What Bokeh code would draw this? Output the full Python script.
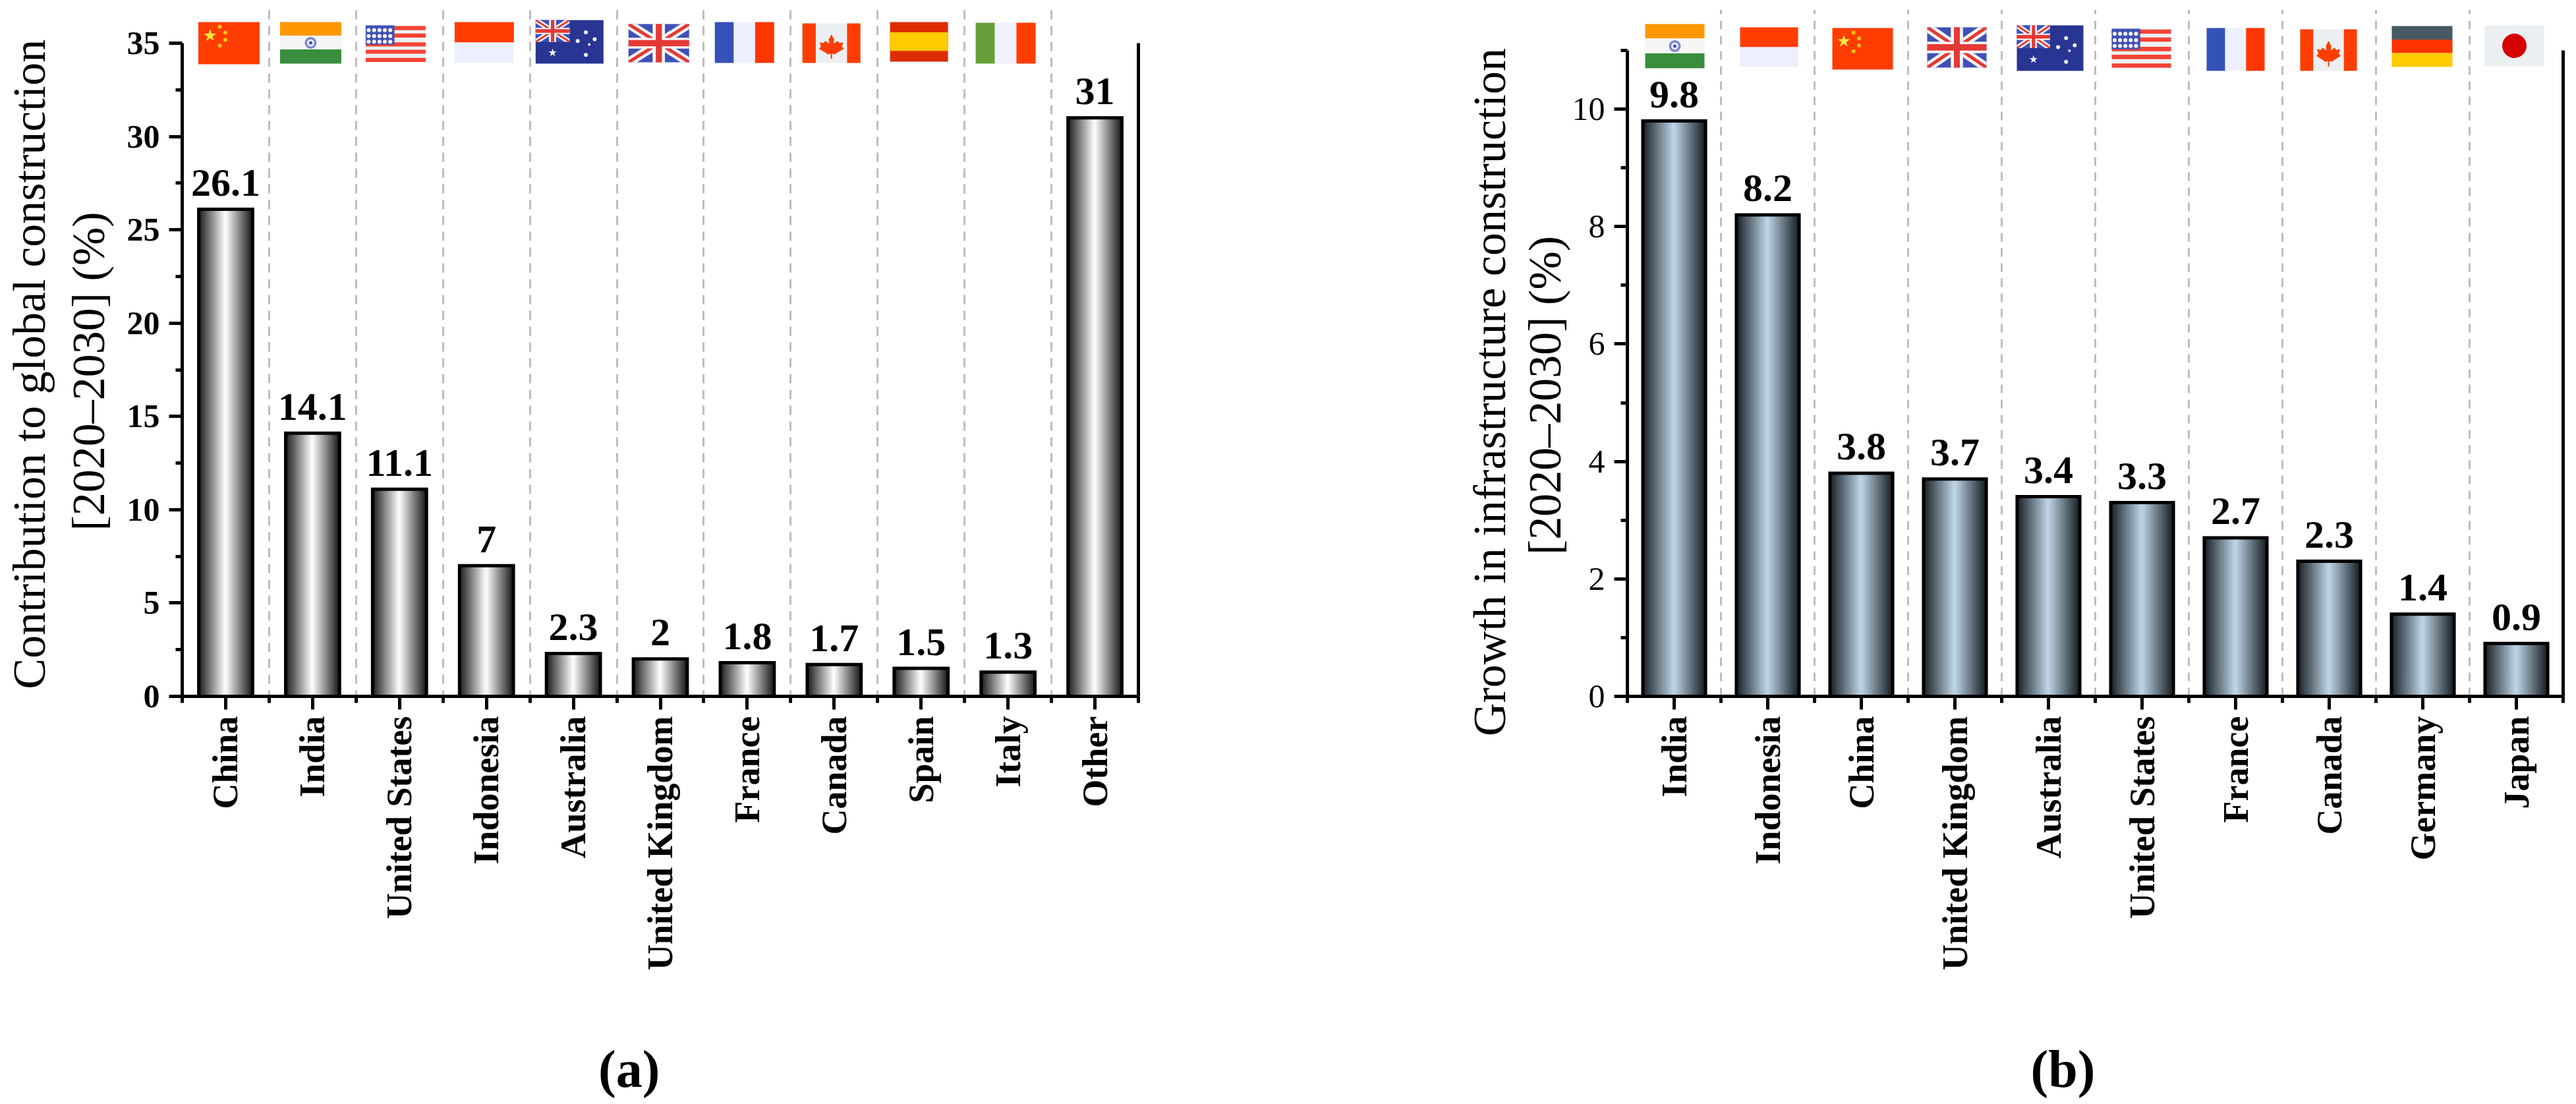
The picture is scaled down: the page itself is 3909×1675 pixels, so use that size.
import math
from bokeh.embed import file_html
from bokeh.resources import INLINE
from bokeh.layouts import row
from bokeh.plotting import figure
from bokeh.models import Range1d, FixedTicker, LinearAxis, Title, ColumnDataSource
from bokeh.core.properties import value

# ---------- data ----------
cats_a = ["China", "India", "United States", "Indonesia", "Australia", "United Kingdom",
          "France", "Canada", "Spain", "Italy", "Other"]
vals_a = [26.1, 14.1, 11.1, 7, 2.3, 2, 1.8, 1.7, 1.5, 1.3, 31]
cats_b = ["India", "Indonesia", "China", "United Kingdom", "Australia", "United States",
          "France", "Canada", "Germany", "Japan"]
vals_b = [9.8, 8.2, 3.8, 3.7, 3.4, 3.3, 2.7, 2.3, 1.4, 0.9]
ylabel_a = ["Contribution to global construction", "[2020\u20132030] (%)"]
ylabel_b = ["Growth in infrastructure construction", "[2020\u20132030] (%)"]
yticks_a = [0, 5, 10, 15, 20, 25, 30, 35]
yminor_a = [2.5, 7.5, 12.5, 17.5, 22.5, 27.5, 32.5]
yticks_b = [0, 2, 4, 6, 8, 10]
yminor_b = [1, 3, 5, 7, 9, 11]

# flag boxes, page pixels: left, right, top, bottom
flags_a = {"China": (300, 393, 33, 97), "India": (424, 517, 33, 96), "United States": (554, 645, 38, 94),
           "Indonesia": (689, 779, 33, 95), "Australia": (812, 915, 30, 96), "United Kingdom": (953, 1045, 36, 94),
           "France": (1084, 1174, 33, 95), "Canada": (1217, 1305, 35, 95), "Spain": (1350, 1438, 33, 93),
           "Italy": (1480, 1571, 34, 96)}
flags_b = {"India": (2496, 2586, 36, 103), "Indonesia": (2640, 2728, 41, 101), "China": (2780, 2872, 42, 105),
           "United Kingdom": (2924, 3014, 41, 102), "Australia": (3060, 3161, 38, 107),
           "United States": (3204, 3294, 43, 103), "France": (3348, 3436, 42, 107), "Canada": (3490, 3576, 44, 107),
           "Germany": (3629, 3721, 39, 101), "Japan": (3770, 3860, 38, 100)}

SERIF = "Liberation Serif"
HEIGHT = 1672
FRAME_TOP = 14
MAPLE_U = [.5, .58, .56, .68, .72, .84, .80, .86, .62, .62, .52, .52, .48, .48, .38, .38, .14, .20, .16, .28, .32, .44, .42]
MAPLE_V = [.20, .34, .46, .38, .44, .42, .54, .60, .74, .76, .74, .88, .88, .74, .76, .74, .60, .54, .42, .44, .38, .46, .34]


def hexmix(c0, c1, t):
    a = [int(c0[i:i + 2], 16) for i in (1, 3, 5)]
    b = [int(c1[i:i + 2], 16) for i in (1, 3, 5)]
    return "#%02x%02x%02x" % tuple(round(x + (y - x) * t) for x, y in zip(a, b))


def spacer(p, side, size):
    """A blank axis with one invisible tick: it only reserves room in a side panel."""
    s = LinearAxis(ticker=FixedTicker(ticks=[1]), major_tick_out=size, major_tick_in=0, major_label_standoff=0,
                   axis_line_color=None, major_tick_line_color=None, minor_tick_line_color=None,
                   major_label_text_color=None, minor_tick_out=0, major_label_overrides={1: ""},
                   major_label_text_font_size="1px")
    p.add_layout(s, side)


def panel(cats, vals, yticks, yminor, ymax, flags, ylabel, tag, page_left, fig_w, frame_l, frame_r,
          y_zero, y_max_px, bar_frac, edge, mid, bold_y, title_starts, title_gaps, tag_x, tag_gap,
          grid_top_px, dash, dash_offset):
    band = (frame_r - frame_l) / len(cats)
    unit = (y_zero - y_max_px) / ymax
    to_x = lambda px: (px - frame_l) / band
    to_y = lambda py: (y_zero - py) / unit
    n = len(cats)
    p = figure(width=fig_w, height=HEIGHT, toolbar_location=None, output_backend="svg",
               x_range=Range1d(0, n), y_range=Range1d(0, to_y(FRAME_TOP)),
               min_border_left=round(frame_l - page_left), min_border_right=round(page_left + fig_w - frame_r),
               min_border_top=FRAME_TOP, min_border_bottom=round(HEIGHT - y_zero))
    p.outline_line_color = None
    p.background_fill_color = "white"
    p.ygrid.visible = False
    p.xgrid.ticker = FixedTicker(ticks=list(range(1, n)))
    p.xgrid.bounds = (0, to_y(grid_top_px))
    p.xgrid.grid_line_color = "#bdbdbd"
    p.xgrid.grid_line_width = 3
    p.xgrid.grid_line_dash = dash
    p.xgrid.grid_line_dash_offset = dash_offset

    centers = [i + 0.5 for i in range(n)]
    xa = p.xaxis[0]
    xa.ticker = FixedTicker(ticks=centers, minor_ticks=list(range(n + 1)))
    xa.major_label_overrides = {c: name for c, name in zip(centers, cats)}
    xa.major_label_orientation = math.pi / 2
    xa.major_label_text_font = SERIF
    xa.major_label_text_font_size = "54px"
    xa.major_label_text_font_style = "bold"
    xa.major_label_text_color = "black"
    xa.major_label_standoff = 10
    ya = p.yaxis[0]
    ya.ticker = FixedTicker(ticks=yticks, minor_ticks=yminor)
    ya.bounds = (0, ymax)
    ya.major_label_text_font = SERIF
    ya.major_label_text_font_size = "50px"
    ya.major_label_text_font_style = "bold" if bold_y else "normal"
    ya.major_label_text_color = "black"
    ya.major_label_standoff = 14
    for ax in (xa, ya):
        ax.axis_line_color = "black"
        ax.axis_line_width = 5
        ax.major_tick_line_color = "black"
        ax.major_tick_line_width = 5
        ax.minor_tick_line_color = "black"
        ax.minor_tick_line_width = 5
        ax.major_tick_in = 0
        ax.major_tick_out = 20
        ax.minor_tick_in = 0
        ax.minor_tick_out = 10
    ra = LinearAxis(ticker=FixedTicker(ticks=[]), bounds=(0, ymax))
    ra.axis_line_color = "black"
    ra.axis_line_width = 5
    ra.major_tick_line_color = None
    ra.minor_tick_line_color = None
    ra.major_label_text_color = None
    p.add_layout(ra, "right")

    # gradient-filled bars, built from thin strips
    strips = 44
    sw = bar_frac / strips
    sx, st, sc = [], [], []
    for c, v in zip(centers, vals):
        for k in range(strips):
            t = (k + 0.5) / strips
            g = 1 - abs(2 * t - 1) / 0.94
            sx.append(c - bar_frac / 2 + (k + 0.5) * sw)
            st.append(v)
            sc.append(hexmix(edge, mid, max(0, min(1, g))))
    p.vbar(x=sx, top=st, bottom=0, width=sw, fill_color=sc, line_color=sc, line_width=1)
    p.vbar(x=centers, top=vals, bottom=0, width=bar_frac, fill_color=None,
           line_color="black", line_width=5, line_join="miter")
    p.text(x=centers, y=vals, text=[str(v) for v in vals], text_font=value(SERIF), text_font_size="60px",
           text_font_style="bold", text_align="center", text_baseline="alphabetic",
           text_color="black", y_offset=-40)

    # flags
    qs = dict(l=[], r=[], t=[], b=[], c=[])
    ps = dict(x=[], y=[], c=[])
    ss = dict(x=[], y=[], s=[], c=[], m=[])
    for name, box in flags.items():
        L, R, T, B = box

        def rect(u0, u1, v0, v1, col):
            qs["l"].append(to_x(L + (R - L) * u0)); qs["r"].append(to_x(L + (R - L) * u1))
            qs["t"].append(to_y(T + (B - T) * v0)); qs["b"].append(to_y(T + (B - T) * v1)); qs["c"].append(col)

        def poly(us, vs, col):
            ps["x"].append([to_x(L + (R - L) * u) for u in us])
            ps["y"].append([to_y(T + (B - T) * v) for v in vs]); ps["c"].append(col)

        def dot(u, v, size, col, marker="circle"):
            ss["x"].append(to_x(L + (R - L) * u)); ss["y"].append(to_y(T + (B - T) * v))
            ss["s"].append(size); ss["c"].append(col); ss["m"].append(marker)

        def jack(u0, u1, v0, v1):
            W, H = u1 - u0, v1 - v0
            mp = lambda a, b: (u0 + W * a, v0 + H * b)
            rect(u0, u1, v0, v1, "#3f51b5")

            def diag(d, col):
                pts = [(0, 0), (d, 0), (1, 1 - d), (1, 1), (1 - d, 1), (0, d)]
                poly([mp(*q)[0] for q in pts], [mp(*q)[1] for q in pts], col)
                pts = [(1, 0), (1, d), (d, 1), (0, 1), (0, 1 - d), (1 - d, 0)]
                poly([mp(*q)[0] for q in pts], [mp(*q)[1] for q in pts], col)
            diag(.14, "#f5f5f5")
            diag(.05, "#e53935")
            rect(u0 + W * .40, u0 + W * .60, v0, v1, "#f5f5f5")
            rect(u0, u1, v0 + H * .36, v0 + H * .64, "#f5f5f5")
            rect(u0 + W * .45, u0 + W * .55, v0, v1, "#e53935")
            rect(u0, u1, v0 + H * .42, v0 + H * .58, "#e53935")

        if name == "China":
            rect(0, 1, 0, 1, "#ff3d00")
            dot(.19, .32, 20, "#ffeb3b", "star")
            for u, v in [(.35, .11), (.44, .25), (.44, .42), (.35, .56)]:
                dot(u, v, 6, "#ffc107")
        elif name == "India":
            rect(0, 1, 0, .33, "#ff9800"); rect(0, 1, .33, .66, "#f5f5f5"); rect(0, 1, .66, 1, "#388e3c")
            dot(.5, .5, 18, "#7f86c9"); dot(.5, .5, 11, "#e8eaf6"); dot(.5, .5, 5, "#3f51b5")
        elif name == "United States":
            rect(0, 1, 0, 1, "#ebf3f5")
            for v in (.02, .22, .46, .66, .88):
                rect(0, 1, v, v + .11, "#f44336")
            rect(0, .48, 0, .52, "#3f51b5")
            for v in (.13, .29, .44):
                for u in (.05, .14, .23, .32, .41):
                    dot(u, v, 6, "#f5f5f5")
        elif name == "Indonesia":
            rect(0, 1, 0, .5, "#ff3d00"); rect(0, 1, .5, 1, "#ecefff")
        elif name == "Australia":
            rect(0, 1, 0, 1, "#283593")
            jack(0, .5, 0, .5)
            dot(.25, .75, 13, "#f5f5f5", "star")
            for u, v, s in [(.74, .28, 6), (.62, .48, 6), (.87, .44, 6), (.79, .56, 4), (.74, .80, 6)]:
                dot(u, v, s, "#f5f5f5")
        elif name == "United Kingdom":
            jack(0, 1, 0, 1)
        elif name == "France":
            rect(0, .32, 0, 1, "#3452b8"); rect(.32, .68, 0, 1, "#eff0ff"); rect(.68, 1, 0, 1, "#ff3600")
        elif name == "Canada":
            rect(0, 1, 0, 1, "#eceff1"); rect(0, .23, 0, 1, "#ff3d00"); rect(.77, 1, 0, 1, "#ff3d00")
            poly([.5 + (u - .5) * .6 for u in MAPLE_U], [.1 + v * .9 for v in MAPLE_V], "#ff3d00")
        elif name == "Spain":
            rect(0, 1, 0, 1, "#dd2c00"); rect(0, 1, .26, .73, "#ffcc00")
        elif name == "Italy":
            rect(0, .32, 0, 1, "#689f38"); rect(.32, .68, 0, 1, "#f0f0ff"); rect(.68, 1, 0, 1, "#ff3d00")
        elif name == "Germany":
            rect(0, 1, 0, .33, "#455a64"); rect(0, 1, .33, .66, "#ff3300"); rect(0, 1, .66, 1, "#ffcc00")
        elif name == "Japan":
            rect(0, 1, 0, 1, "#eceff1")
            dot(.5, .5, 37, "#d50000")
    # layering: base rects first, then details
    p.quad(left="l", right="r", top="t", bottom="b", fill_color="c", line_color=None,
           source=ColumnDataSource(qs))
    p.patches(xs="x", ys="y", fill_color="c", line_color=None, source=ColumnDataSource(ps))
    # the inner cross of the jacks must cover the diagonals
    cross = {k: [] for k in qs}
    for i, col in enumerate(qs["c"]):
        if col in ("#e53935", "#f5f5f5"):
            for k in qs:
                cross[k].append(qs[k][i])
    order = sorted(range(len(cross["c"])), key=lambda i: cross["c"][i] == "#e53935")
    cross = {k: [v[i] for i in order] for k, v in cross.items()}
    p.quad(left="l", right="r", top="t", bottom="b", fill_color="c", line_color=None,
           source=ColumnDataSource(cross))
    p.scatter(x="x", y="y", size="s", marker="m", fill_color="c", line_color=None,
              source=ColumnDataSource(ss))

    # two-line y title and panel tag as side titles (line nearest the axis first)
    for txt, start, gap in zip(reversed(ylabel), reversed(title_starts), title_gaps):
        if gap:
            spacer(p, "left", gap)
        p.add_layout(Title(text=txt, align="left", offset=y_zero - start, standoff=0, text_line_height=1.0,
                           text_font=SERIF, text_font_size="70px", text_font_style="normal",
                           text_color="black"), "left")
    spacer(p, "below", tag_gap)
    p.add_layout(Title(text=tag, align="left", offset=tag_x - frame_l, standoff=0, text_line_height=1.0,
                       text_font=SERIF, text_font_size="80px", text_font_style="bold",
                       text_color="black"), "below")
    return p


a = panel(cats_a, vals_a, yticks_a, yminor_a, 35, flags_a, ylabel_a, "(a)", 0, 2000, 275.5, 1727,
          1056, 65, 0.62, "#262626", "#ffffff", True, (1045, 805), (17, 11), 907, 100, 63, "14 10", 5)
b = panel(cats_b, vals_b, yticks_b, yminor_b, 11, flags_b, ylabel_b, "(b)", 2000, 1900, 2469, 3889,
          1056.5, 76, 0.67, "#20282d", "#c0d7ea", False, (1117, 842), (0, 5), 3081, 100, 84, "13 10", 0)

page = row(a, b, spacing=0)
open("out.html", "w").write(file_html(page, INLINE))
